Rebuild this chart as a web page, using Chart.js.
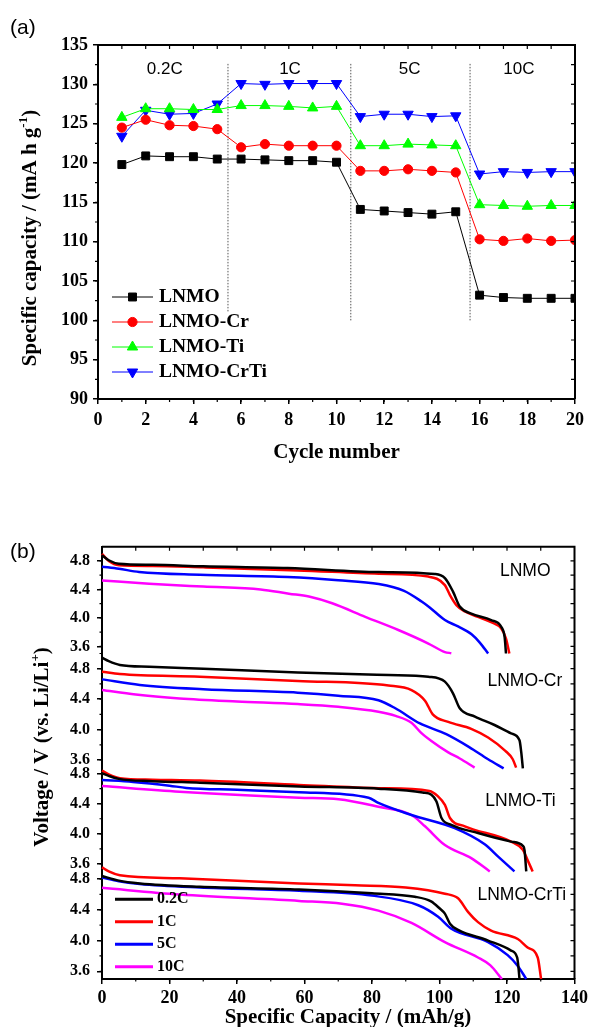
<!DOCTYPE html>
<html>
<head>
<meta charset="utf-8">
<script src="https://cdn.jsdelivr.net/npm/chart.js@4.4.1/dist/chart.umd.min.js"></script>
<style>
  body { margin: 0; background: #fff; }
  #wrap { position: relative; width: 592px; height: 1027px; }
  canvas { position: absolute; left: 0; }
</style>
</head>
<body>
<div id="wrap">
  <canvas id="rate" width="592" height="480" style="top:0"></canvas>
  <canvas id="curves" width="592" height="547" style="top:480px"></canvas>
</div>
<script>
// ---- (a) rate capability, specific capacity per cycle ----
const cycles = [1, 2, 3, 4, 5, 6, 7, 8, 9, 10, 11, 12, 13, 14, 15, 16, 17, 18, 19, 20];
const capLNMO = [119.8, 120.9, 120.8, 120.8, 120.5, 120.5, 120.4, 120.3, 120.3, 120.1, 114.1, 113.9, 113.7, 113.5, 113.8, 103.2, 102.9, 102.8, 102.8, 102.8];
const capCr = [124.5, 125.5, 124.8, 124.7, 124.3, 122.0, 122.4, 122.2, 122.2, 122.2, 119.0, 119.0, 119.2, 119.0, 118.8, 110.3, 110.1, 110.4, 110.1, 110.2];
const capTi = [125.8, 126.9, 126.9, 126.8, 126.8, 127.3, 127.3, 127.2, 127.0, 127.2, 122.2, 122.2, 122.4, 122.3, 122.2, 114.7, 114.6, 114.5, 114.6, 114.6];
const capCrTi = [123.4, 126.7, 126.2, 126.3, 127.5, 130.1, 130.0, 130.1, 130.1, 130.1, 125.9, 126.2, 126.2, 125.9, 126.0, 118.6, 118.9, 118.8, 118.9, 118.9];

const sampleNames = ['LNMO', 'LNMO-Cr', 'LNMO-Ti', 'LNMO-CrTi'];
const rateNames = ['0.2C', '1C', '5C', '10C'];
const rateLabelX = [2.8, 8.05, 13.07, 17.65];
const rateLabelY = 131.95;
const splitX = [5.45, 10.6, 15.6];
const splitTop = 132.6;
const splitBottom = [101.1, 99.85, 99.85];

// ---- (b) discharge curves: [capacity mAh/g, voltage V] ----
const lnmo02 = [[0,4.88],[2,4.81],[5,4.76],[15,4.745],[30,4.725],[55,4.70],[82,4.644],[98.6,4.616],[101.6,4.56],[104,4.37],[106,4.16],[109.4,4.06],[115.3,3.97],[118.3,3.875],[119.3,3.73],[119.7,3.5]];
const lnmo1 = [[0,4.9],[2,4.80],[5,4.74],[15,4.73],[30,4.71],[58,4.667],[82,4.62],[96.7,4.58],[101.6,4.46],[103.1,4.32],[105,4.18],[107.5,4.09],[111.4,4.015],[115.3,3.94],[118.3,3.85],[119.7,3.71],[120.7,3.5]];
const lnmo5 = [[0,4.72],[5,4.69],[11,4.645],[29,4.606],[55,4.575],[70,4.53],[82,4.475],[89.5,4.38],[94.7,4.23],[97,4.15],[101.6,3.97],[105.5,3.88],[109.5,3.77],[112,3.65],[114.4,3.5]];
const lnmo10 = [[0,4.525],[14,4.48],[30,4.44],[47,4.40],[55.4,4.34],[61.3,4.30],[68.2,4.205],[78,4.015],[87.8,3.83],[96.7,3.64],[101.6,3.52],[103.5,3.505]];

const cr02 = [[0,4.945],[2,4.90],[5.3,4.85],[14,4.826],[30,4.80],[58,4.75],[84.9,4.717],[96.7,4.695],[101.6,4.63],[104,4.477],[106,4.28],[110.5,4.17],[116.3,4.06],[121.2,3.95],[123.7,3.86],[124.2,3.71],[124.7,3.49]];
const cr1 = [[0,4.76],[5.3,4.73],[29,4.695],[58,4.64],[84.9,4.58],[91.7,4.52],[95.7,4.38],[98,4.20],[102.6,4.10],[109.4,4.01],[114.4,3.895],[119.5,3.72],[121.7,3.61],[122.7,3.5]];
const cr5 = [[0,4.66],[11.2,4.586],[30,4.53],[58,4.485],[70,4.445],[81.9,4.385],[86.9,4.28],[94.2,4.08],[102,3.94],[108.8,3.77],[114.4,3.61],[119,3.49]];
const cr10 = [[0,4.52],[10,4.46],[23,4.41],[40,4.37],[58,4.336],[70,4.30],[81.9,4.235],[87,4.18],[91.7,4.09],[94.5,3.96],[97.6,3.85],[102.6,3.70],[106,3.62],[110.4,3.5]];

const ti02 = [[0,4.805],[2,4.77],[5,4.73],[15,4.70],[29,4.68],[58.4,4.63],[81.9,4.60],[95,4.55],[97.6,4.52],[99.1,4.43],[100.6,4.21],[103.5,4.12],[111.4,4.01],[121.2,3.896],[124.7,3.84],[125.2,3.78],[125.7,3.5]];
const ti1 = [[0,4.84],[2,4.79],[5.3,4.74],[15,4.72],[29,4.707],[58.4,4.65],[81.9,4.606],[97,4.57],[99.5,4.50],[101.6,4.384],[103.1,4.21],[107.5,4.10],[121.2,3.896],[124.7,3.786],[126.1,3.65],[127.6,3.5]];
const ti5 = [[0,4.716],[9.2,4.69],[20,4.64],[25,4.61],[40,4.585],[58.4,4.553],[79,4.48],[81.9,4.41],[91.7,4.25],[104.5,4.075],[113.4,3.86],[117.3,3.70],[122.2,3.5]];
const ti10 = [[0,4.636],[23,4.56],[58.4,4.48],[70.1,4.46],[81.9,4.36],[91.7,4.25],[95.7,4.10],[101.6,3.85],[109.4,3.676],[114.9,3.5]];

const crti02 = [[0,4.84],[5,4.78],[11.2,4.744],[29,4.70],[58.4,4.665],[80,4.615],[92.7,4.57],[97.5,4.51],[100,4.42],[101.6,4.35],[103.1,4.22],[105.5,4.14],[114.4,4.0],[121.2,3.87],[123,3.78],[123.4,3.65],[123.7,3.5]];
const crti1 = [[0,4.953],[2,4.90],[5.3,4.85],[23,4.81],[58.4,4.744],[75,4.72],[90,4.69],[101.6,4.61],[105.5,4.55],[108.5,4.37],[111.4,4.24],[115.3,4.13],[123.2,4.02],[126.1,3.91],[129.1,3.78],[130.1,3.5]];
const crti5 = [[0,4.82],[5,4.77],[11.2,4.735],[29,4.69],[58.4,4.647],[80,4.585],[93.7,4.46],[99.6,4.31],[103.5,4.155],[114.4,3.98],[120.2,3.81],[123.2,3.67],[125.7,3.5]];
const crti10 = [[0,4.686],[23,4.60],[58.4,4.516],[71.1,4.48],[81.9,4.39],[91.7,4.23],[101.6,3.98],[111.4,3.78],[115,3.68],[118.5,3.5]];

const voltTicks = [3.6, 4.0, 4.4, 4.8];
const groupLabelX = [125.4, 125.3, 124.0, 124.4];
const groupLabelY = [4.65, 4.63, 4.43, 4.59];

// styles
const sampleColors = ['#000000', '#ff0000', '#00ff00', '#0000ff'];
const sampleMarks = [['rect', 5.6, 0], ['circle', 4.6, 0], ['triangle', 6, 0], ['triangle', 6, 180]];
const rateColors = ['#000000', '#ff0000', '#0000ff', '#ff00ff'];
const SERIF = '"Liberation Serif", "Times New Roman", serif';
const SANS = '"Liberation Sans", Arial, sans-serif';

Chart.defaults.color = '#000';
Chart.defaults.font.family = SERIF;

// frame on top/right, minor ticks outside, mirrored ticks inside
const decor = {
  id: 'decor',
  afterDraw(chart, args, o) {
    const {ctx, chartArea: a} = chart;
    ctx.save();
    ctx.strokeStyle = '#000';
    ctx.lineWidth = 2;
    ctx.beginPath();
    ctx.moveTo(a.left, a.top);
    ctx.lineTo(a.right, a.top);
    ctx.lineTo(a.right, a.bottom);
    ctx.stroke();
    ctx.lineWidth = 1.2;
    ctx.beginPath();
    Object.entries(o.steps).forEach(([id, step]) => {
      const s = chart.scales[id];
      for (let k = Math.ceil(s.min / step - 1e-6); k * step <= s.max + 1e-6; k++) {
        const p = s.getPixelForValue(k * step);
        if (s.isHorizontal()) {
          if (p < a.left + 2 || p > a.right - 2) continue;
          ctx.moveTo(p, a.bottom); ctx.lineTo(p, a.bottom + o.out);
          ctx.moveTo(p, a.top); ctx.lineTo(p, a.top + o.in);
        } else {
          if (p < a.top + 2 || p > a.bottom - 2) continue;
          ctx.moveTo(a.left, p); ctx.lineTo(a.left - o.out, p);
          ctx.moveTo(a.right, p); ctx.lineTo(a.right - o.in, p);
        }
      }
    });
    ctx.stroke();
    ctx.restore();
  }
};

// free text: titles, panel letters, annotations (parts flagged 1 are superscript)
const notes = {
  id: 'notes',
  afterDraw(chart, args, opts) {
    const ctx = chart.ctx;
    for (const n of opts.items) {
      const x = n.xs ? chart.scales[n.xs].getPixelForValue(n.x) : n.x;
      const y = n.ys ? chart.scales[n.ys].getPixelForValue(n.y) : n.y;
      const parts = typeof n.text === 'string' ? [[n.text, 0]] : n.text;
      ctx.save();
      ctx.translate(x, y);
      if (n.rot) ctx.rotate(n.rot);
      ctx.fillStyle = '#000';
      ctx.textBaseline = 'middle';
      ctx.textAlign = 'left';
      const fonts = parts.map(p => (n.weight || 'normal') + ' ' + (p[1] ? Math.round(n.size * 0.6) : n.size) + 'px ' + n.family);
      const widths = parts.map((p, i) => { ctx.font = fonts[i]; return ctx.measureText(p[0]).width; });
      const total = widths.reduce((s, w) => s + w, 0);
      let cx = n.align === 'left' ? 0 : -total / 2;
      parts.forEach((p, i) => {
        ctx.font = fonts[i];
        ctx.fillText(p[0], cx, p[1] ? -n.size * 0.35 : 0);
        cx += widths[i];
      });
      ctx.restore();
    }
  }
};

// legend with a line segment and optional marker
const keyBox = {
  id: 'keyBox',
  afterDraw(chart, args, o) {
    const ctx = chart.ctx;
    const drawPoint = Chart.helpers && Chart.helpers.drawPoint;
    ctx.save();
    ctx.font = o.font;
    ctx.textBaseline = 'middle';
    ctx.textAlign = 'left';
    o.entries.forEach((e, i) => {
      const y = o.y + i * o.step;
      ctx.strokeStyle = e.color;
      ctx.fillStyle = e.color;
      ctx.lineWidth = o.lineWidth;
      ctx.beginPath();
      ctx.moveTo(o.x, y);
      ctx.lineTo(o.x + o.len, y);
      ctx.stroke();
      if (e.mark && drawPoint) {
        ctx.lineWidth = 1;
        drawPoint(ctx, {pointStyle: e.mark[0], radius: e.mark[1], rotation: e.mark[2], borderWidth: 1}, o.x + o.len / 2, y);
      }
      ctx.fillStyle = '#000';
      ctx.fillText(e.label, o.x + o.len + o.gap, y);
    });
    ctx.restore();
  }
};

const tickFont = size => ({family: SERIF, weight: 'bold', size});
const majorGrid = {drawOnChartArea: false, drawTicks: true, tickLength: 5, color: '#000', lineWidth: 1.5};
const axisBorder = {display: true, color: '#000', width: 2};

// ---------- chart (a) ----------
const datasetsA = [capLNMO, capCr, capTi, capCrTi].map((vals, i) => ({
  label: sampleNames[i],
  data: vals.map((v, j) => ({x: cycles[j], y: v})),
  borderColor: sampleColors[i],
  backgroundColor: sampleColors[i],
  pointBackgroundColor: sampleColors[i],
  pointBorderColor: sampleColors[i],
  borderWidth: 1,
  pointStyle: sampleMarks[i][0],
  pointRadius: sampleMarks[i][1],
  pointRotation: sampleMarks[i][2],
  pointBorderWidth: 1,
  tension: 0
}));
splitX.forEach((x, i) => datasetsA.push({
  label: 'split' + i,
  data: [{x, y: splitTop}, {x, y: splitBottom[i]}],
  borderColor: '#555',
  borderWidth: 1,
  borderDash: [1.5, 1.5],
  pointRadius: 0
}));

new Chart(document.getElementById('rate'), {
  type: 'line',
  data: {datasets: datasetsA},
  options: {
    responsive: false,
    animation: false,
    events: [],
    layout: {padding: {left: 0, top: 45, right: 17, bottom: 0}},
    scales: {
      x: {
        type: 'linear', min: 0, max: 20,
        ticks: {stepSize: 2, font: tickFont(18), padding: 6, maxRotation: 0, autoSkip: false},
        grid: majorGrid, border: axisBorder,
        afterFit: s => { s.height = 81; }
      },
      y: {
        type: 'linear', min: 90, max: 135,
        ticks: {stepSize: 5, font: tickFont(18), padding: 5, autoSkip: false},
        grid: majorGrid, border: axisBorder,
        afterFit: s => { s.width = 98; }
      }
    },
    plugins: {
      legend: {display: false},
      tooltip: {enabled: false},
      decor: {steps: {x: 1, y: 2.5}, out: 3, in: 4},
      keyBox: {
        x: 112, y: 297, step: 25, len: 41, gap: 6, lineWidth: 1,
        font: 'bold 19.5px ' + SERIF,
        entries: sampleNames.map((n, i) => ({label: n, color: sampleColors[i], mark: sampleMarks[i]}))
      },
      notes: {
        items: [
          ...rateNames.map((t, i) => ({text: t, x: rateLabelX[i], y: rateLabelY, xs: 'x', ys: 'y', size: 17, family: SANS})),
          {text: '(a)', x: 10, y: 28, align: 'left', size: 21, family: SANS},
          {text: 'Cycle number', x: 336.5, y: 453, size: 21, weight: 'bold', family: SERIF},
          {text: [['Specific capacity / (mA h g', 0], ['-1', 1], [')', 0]], x: 31, y: 238, rot: -Math.PI / 2, size: 21, weight: 'bold', family: SERIF}
        ]
      }
    }
  },
  plugins: [decor, notes, keyBox]
});

// ---------- chart (b) ----------
const groups = [[lnmo02, lnmo1, lnmo5, lnmo10], [cr02, cr1, cr5, cr10], [ti02, ti1, ti5, ti10], [crti02, crti1, crti5, crti10]];
const datasetsB = [];
groups.forEach((set, g) => set.forEach((pts, r) => datasetsB.push({
  label: sampleNames[g] + ' ' + rateNames[r],
  data: pts.map(([x, y]) => ({x, y})),
  yAxisID: 'g' + (g + 1),
  borderColor: rateColors[r],
  borderWidth: 2.5,
  pointRadius: 0,
  cubicInterpolationMode: 'monotone',
  clip: false
})));

const groupMax = [5.0, 5.0, 4.88, 4.9];
const groupWeight = [106.8, 114.1, 103.8, 107.6];
const voltAxis = g => ({
  type: 'linear', axis: 'y', position: 'left',
  stack: 'volt', stackWeight: groupWeight[g], weight: 4 - g,
  min: 3.5, max: groupMax[g],
  afterBuildTicks: s => { s.ticks = voltTicks.map(v => ({value: v})); },
  ticks: {font: tickFont(16), padding: 7, autoSkip: false, callback: v => Number(v).toFixed(1)},
  grid: majorGrid, border: axisBorder,
  afterFit: s => { s.width = 102; }
});

new Chart(document.getElementById('curves'), {
  type: 'line',
  data: {datasets: datasetsB},
  options: {
    responsive: false,
    animation: false,
    events: [],
    layout: {padding: {left: 0, top: 66.7, right: 14.7, bottom: 0}},
    scales: {
      x: {
        type: 'linear', min: 0, max: 140,
        ticks: {stepSize: 20, font: tickFont(18), padding: 4, maxRotation: 0, autoSkip: false},
        grid: majorGrid, border: axisBorder,
        afterFit: s => { s.height = 48; }
      },
      g1: voltAxis(0),
      g2: voltAxis(1),
      g3: voltAxis(2),
      g4: voltAxis(3)
    },
    plugins: {
      legend: {display: false},
      tooltip: {enabled: false},
      decor: {steps: {x: 10, g1: 0.2, g2: 0.2, g3: 0.2, g4: 0.2}, out: 2.5, in: 4},
      keyBox: {
        x: 115, y: 419.3, step: 22.5, len: 38, gap: 4, lineWidth: 3,
        font: 'bold 16px ' + SERIF,
        entries: rateNames.map((n, i) => ({label: n, color: rateColors[i]}))
      },
      notes: {
        items: [
          ...sampleNames.map((t, g) => ({text: t, x: groupLabelX[g], y: groupLabelY[g], xs: 'x', ys: 'g' + (g + 1), size: 17.5, family: SANS})),
          {text: '(b)', x: 10, y: 72, align: 'left', size: 21, family: SANS},
          {text: 'Specific Capacity / (mAh/g)', x: 348, y: 538, size: 21, weight: 'bold', family: SERIF},
          {text: [['Voltage / V (vs. Li/Li', 0], ['+', 1], [')', 0]], x: 43, y: 267, rot: -Math.PI / 2, size: 21, weight: 'bold', family: SERIF}
        ]
      }
    }
  },
  plugins: [decor, notes, keyBox]
});
</script>
</body>
</html>
